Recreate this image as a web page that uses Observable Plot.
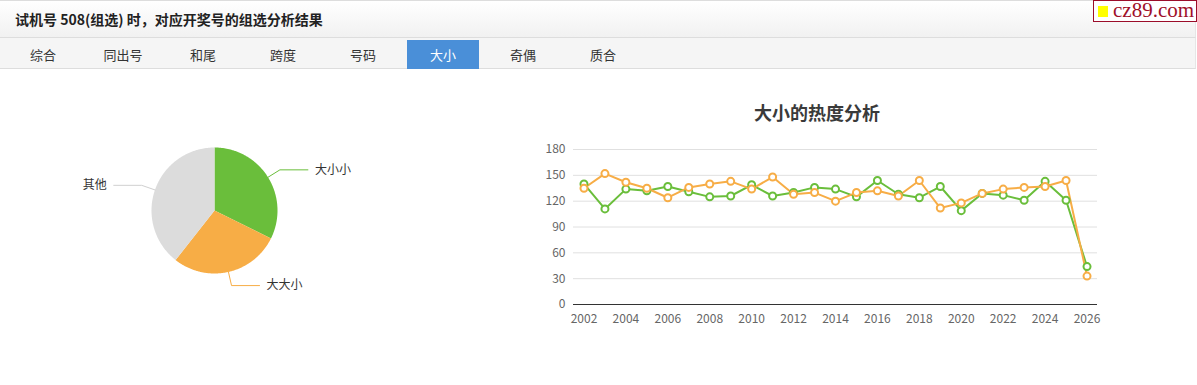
<!DOCTYPE html>
<html><head><meta charset="utf-8">
<script src="https://cdn.jsdelivr.net/npm/d3@7"></script>
<script src="https://cdn.jsdelivr.net/npm/@observablehq/plot@0.6"></script>
<style>
body{margin:0;background:#fff;font-family:"Noto Sans CJK SC","Noto Sans",sans-serif;width:1197px;height:385px;position:relative;overflow:hidden}
#hdr{position:absolute;left:0;top:0;width:1195px;height:36px;border-top:1px solid #ddd;border-bottom:1px solid #ddd;border-right:1px solid #e6e6e6;background:linear-gradient(#fff,#f1f1f1)}
#hdr .t{position:absolute;left:15px;top:0;line-height:36px;font-size:14px;font-weight:bold;color:#222}
#logo{position:absolute;left:1093px;top:0;width:102px;height:20px;border:1px solid #9b0d2a;background:#fff;font-family:"Liberation Serif","DejaVu Serif",serif;color:#a0102a;font-size:21px;line-height:20px}
#logo .sq{position:absolute;left:4px;top:5px;width:10px;height:11px;background:#ffff00}
#logo .tx{position:absolute;left:19px;top:-1px}
#tabs{position:absolute;left:0;top:38px;width:1195px;height:30px;background:#f5f5f5;border-bottom:1px solid #ddd;border-right:1px solid #e6e6e6}
.tab{position:absolute;top:2px;width:72px;height:29px;line-height:29px;text-align:center;font-size:13px;color:#333}
.tab.on{background:#4a8fd8;color:#fff}
#pie{position:absolute;left:0;top:100px}
#lc{position:absolute;left:500px;top:130px}
#ltitle{position:absolute;left:717px;width:200px;top:99px;text-align:center;font-size:18px;font-weight:bold;color:#3a3a3a}
</style></head><body>
<div id="hdr"><div class="t">试机号 508(组选) 时，对应开奖号的组选分析结果</div></div>
<div id="logo"><div class="sq"></div><div class="tx">cz89.com</div></div>
<div id="tabs"></div>
<div id="pie"></div>
<div id="ltitle">大小的热度分析</div>
<div id="lc"></div>
<script>
// ---- data ----
const tabNames = ["综合","同出号","和尾","跨度","号码","大小","奇偶","质合"];
const activeTab = "大小";
const pieNames = ["大小小","大大小","其他"];
const pieValues = [32.3, 28.3, 39.4];
const pieColors = ["#6abe3b","#f7ad46","#dcdcdc"];
const lineColors = ["#6abe3b","#f7ad46","#d0d0d0"];
const years = [2002,2003,2004,2005,2006,2007,2008,2009,2010,2011,2012,2013,2014,2015,2016,2017,2018,2019,2020,2021,2022,2023,2024,2025,2026];
const daxiaoxiao = [140,111,134,132,137,131,125,126,139,126,130,136,134,125,144,128,124,137,109,129,127,121,143,121,44];
const dadaxiao  = [135,152,142,135,124,136,140,143,134,148,128,130,120,130,132,126,144,112,118,129,134,136,137,144,33];
const yTicks = [0,30,60,90,120,150,180];
const xTicks = [2002,2004,2006,2008,2010,2012,2014,2016,2018,2020,2022,2024,2026];

// ---- tabs ----
const tabs = document.getElementById("tabs");
tabNames.forEach((n,i)=>{
  const d=document.createElement("div");
  d.className="tab"+(n===activeTab?" on":"");
  d.style.left=(7+80*i)+"px";
  d.textContent=n;
  tabs.appendChild(d);
});

// ---- pie ----
const W=430,H=240,cx=214,cy=110,R=63;
const arcs = d3.pie().sort(null).value(d=>d.v)(pieNames.map((n,i)=>({n,v:pieValues[i]})));
const poly=[];
arcs.forEach(a=>{
  poly.push({name:a.data.n,x:cx,y:cy});
  const steps=Math.ceil((a.endAngle-a.startAngle)/0.01);
  for(let k=0;k<=steps;k++){
    const t=a.startAngle+(a.endAngle-a.startAngle)*k/steps;
    poly.push({name:a.data.n,x:cx+R*Math.sin(t),y:cy-R*Math.cos(t)});
  }
  poly.push({name:a.data.n,x:cx,y:cy});
});
const leaders=[], labelsR=[], labelsL=[];
arcs.forEach(a=>{
  const m=(a.startAngle+a.endAngle)/2, s=Math.sin(m), c=-Math.cos(m);
  const p1={x:cx+R*s,y:cy+R*c}, p2={x:cx+(R+14)*s,y:cy+(R+14)*c};
  const dir=s>=0?1:-1;
  const p3={x:p2.x+dir*28,y:p2.y};
  [p1,p2,p3].forEach(p=>leaders.push({name:a.data.n,...p}));
  (dir>0?labelsR:labelsL).push({name:a.data.n,x:p3.x+dir*7,y:p3.y});
});
document.getElementById("pie").appendChild(Plot.plot({
  width:W,height:H,margin:0,
  x:{domain:[0,W],range:[0,W],axis:null},
  y:{domain:[0,H],range:[0,H],axis:null},
  color:{domain:pieNames,range:pieColors},
  style:{background:"transparent",fontFamily:"'Noto Sans CJK SC',sans-serif"},
  marks:[
    Plot.line(poly,{x:"x",y:"y",z:"name",fill:"name",stroke:"none",curve:"linear"}),
    Plot.line(leaders,{x:"x",y:"y",z:"name",stroke:d=>lineColors[pieNames.indexOf(d.name)],strokeWidth:1}),
    Plot.text(labelsR,{x:"x",y:"y",text:"name",textAnchor:"start",fontSize:12,fill:"#333"}),
    Plot.text(labelsL,{x:"x",y:"y",text:"name",textAnchor:"end",fontSize:12,fill:"#333"})
  ]
}));

// ---- line chart ----
const g=years.map((y,i)=>({year:y,v:daxiaoxiao[i]}));
const o=years.map((y,i)=>({year:y,v:dadaxiao[i]}));
document.getElementById("lc").appendChild(Plot.plot({
  width:650,height:200,marginLeft:73,marginRight:53,marginTop:19,marginBottom:26,
  style:{background:"transparent",fontFamily:"'Noto Sans CJK SC',sans-serif",fontSize:"12px"},
  x:{domain:[2001.5,2026.5],axis:null},
  y:{domain:[0,180],axis:null},
  marks:[
    Plot.gridY(yTicks.filter(t=>t>0),{stroke:"#e0e0e0",strokeOpacity:1}),
    Plot.ruleY([0],{stroke:"#333",strokeWidth:1}),
    Plot.axisY(yTicks,{tickSize:0,tickPadding:8,fill:"#666",fontSize:12,label:null}),
    Plot.axisX(xTicks,{tickSize:0,tickPadding:10,fill:"#666",fontSize:12,tickFormat:d=>String(d),label:null}),
    Plot.line(g,{x:"year",y:"v",stroke:pieColors[0],strokeWidth:2}),
    Plot.line(o,{x:"year",y:"v",stroke:pieColors[1],strokeWidth:2}),
    Plot.dot(g,{x:"year",y:"v",r:3.5,fill:"#fff",stroke:pieColors[0],strokeWidth:2}),
    Plot.dot(o,{x:"year",y:"v",r:3.5,fill:"#fff",stroke:pieColors[1],strokeWidth:2})
  ]
}));
</script>
</body></html>
